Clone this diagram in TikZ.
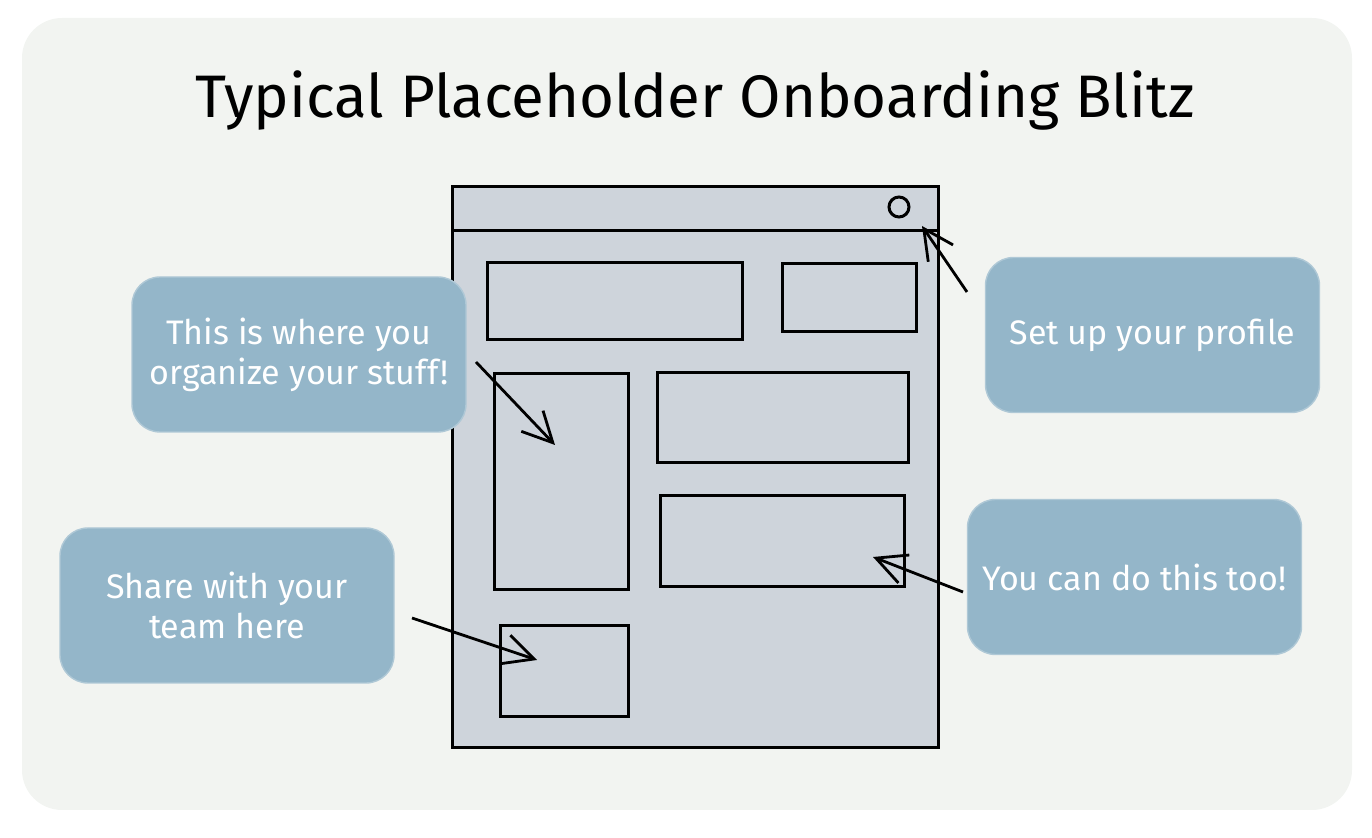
\documentclass[tikz,border=0pt]{standalone}
\usepackage{fontspec}
\setmainfont{Fira Sans}
\usepackage{xcolor}
\usetikzlibrary{positioning,arrows.meta}

\definecolor{paper}{HTML}{F2F4F1}
\definecolor{screen}{HTML}{CED4DB}
\definecolor{tipblue}{HTML}{94B6C9}
\definecolor{tipedge}{HTML}{AFC8D6}

\begin{document}
\begin{tikzpicture}[
	x=0.5pt, y=-0.5pt,
	>={Straight Barb[length=15pt,width=15pt]},
	widget/.style={
		draw,
		line width=1.5pt
	},
	callout/.style={
		rectangle,
		rounded corners=14pt,
		fill=tipblue,
		draw=tipedge,
		line width=0.7pt,
		text=white,
		align=center,
		font=\fontsize{17}{20}\selectfont,
		minimum width=167pt,
		minimum height=77.5pt
	},
	pointer/.style={->, line width=1.4pt}
	]
	
	\useasboundingbox (0,0) rectangle (1372,838);
	\fill[paper, rounded corners=20pt] (22,18) rectangle (1352,810);
	
	\node (title) at (695,100) {\fontsize{30}{34}\selectfont Typical Placeholder Onboarding Blitz};
	
	% screen mock-up
	\node[widget, fill=screen, minimum width=243pt, minimum height=280.5pt, inner sep=0pt] (screen) at (695,467.5) {};
	\draw[widget] (452,231) -- (938,231);
	\node[widget, circle, minimum size=10pt, inner sep=0pt] (avatar) at (899,207) {};
	
	\draw[widget] (487,263) rectangle (742,340);
	\draw[widget] (782,264) rectangle (916,332);
	\draw[widget] (494,374) rectangle (628,590);
	\draw[widget] (657,373) rectangle (908,463);
	\draw[widget] (660,496) rectangle (904,587);
	\draw[widget] (500,626) rectangle (628,717);
	
	% callouts
	\node[callout] (organize) at (299,354.5) {This is where you\\organize your stuff!};
	\node[callout] (profile) at (1152.5,335) {Set up your profile};
	\node[callout] (team) at (227,605.5) {Share with your\\team here};
	\node[callout] (too) at (1134.5,577) {You can do this too!};
	
	% pointers
	\coordinate (organize tail) at (476,362);
	\coordinate (organize head) at (555,445);
	\coordinate (profile tail) at (967,292);
	\coordinate (profile head) at (922,226);
	\coordinate (team tail) at (412,618);
	\coordinate (team head) at (537,660);
	\coordinate (too tail) at (963,592);
	\coordinate (too head) at (873,557);
	
	\draw[pointer] (organize tail) -- (organize head);
	\draw[pointer] (profile tail) -- (profile head);
	\draw[pointer] (team tail) -- (team head);
	\draw[pointer] (too tail) -- (too head);
\end{tikzpicture}
\end{document}
